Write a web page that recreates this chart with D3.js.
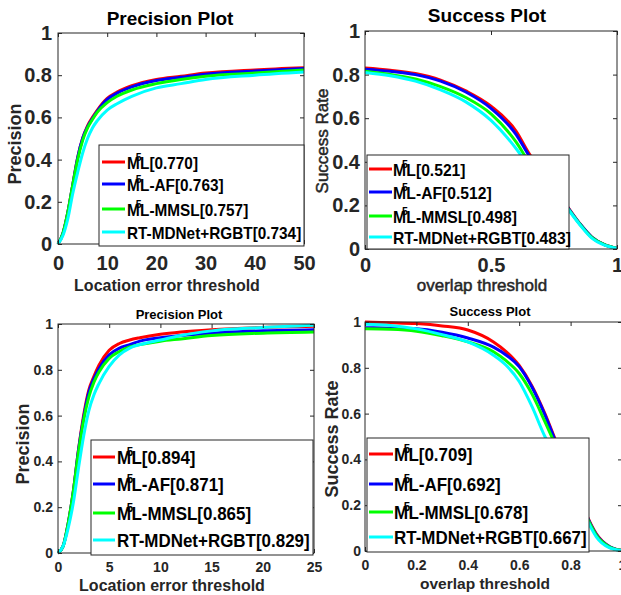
<!DOCTYPE html>
<html>
<head>
<meta charset="utf-8">
<script src="https://cdn.jsdelivr.net/npm/d3@7/dist/d3.min.js"></script>
<style>
body { margin: 0; background: #fff; }
text { font-family: "Liberation Sans", Arial, sans-serif; }
</style>
</head>
<body>
<div id="chart"></div>
<script>
// series names and colours (same order in all four plots)
const names = ["M5L", "M5L-AF", "M5L-MMSL", "RT-MDNet+RGBT"];
const colors = ["#ff0000", "#0000ff", "#00ff00", "#00ffff"];

// top left: precision, threshold 0..50
const precAX = [0, 1, 2, 3, 4, 5, 6, 7, 8, 10, 12, 15, 20, 25, 30, 40, 50];
const precARed   = [0, 0.05, 0.15, 0.28, 0.41, 0.50, 0.56, 0.60, 0.635, 0.69, 0.72, 0.75, 0.78, 0.795, 0.81, 0.825, 0.835];
const precABlue  = [0, 0.05, 0.15, 0.28, 0.41, 0.50, 0.555, 0.595, 0.63, 0.685, 0.715, 0.745, 0.775, 0.79, 0.805, 0.82, 0.832];
const precAGreen = [0, 0.05, 0.15, 0.28, 0.40, 0.49, 0.55, 0.59, 0.625, 0.67, 0.70, 0.73, 0.76, 0.78, 0.795, 0.81, 0.825];
const precACyan  = [0, 0.04, 0.12, 0.24, 0.34, 0.43, 0.50, 0.55, 0.585, 0.635, 0.665, 0.70, 0.74, 0.76, 0.78, 0.80, 0.815];
const precAScores = ["0.770", "0.763", "0.757", "0.734"];

// top right: success, overlap 0..1
const succAX = [0, 0.1, 0.2, 0.3, 0.4, 0.5, 0.6, 0.65, 0.7, 0.75, 0.8, 0.85, 0.9, 0.95, 1];
const succARed   = [0.83, 0.82, 0.805, 0.775, 0.725, 0.655, 0.54, 0.44, 0.36, 0.28, 0.20, 0.12, 0.055, 0.02, 0.003];
const succABlue  = [0.825, 0.815, 0.80, 0.77, 0.72, 0.645, 0.525, 0.43, 0.35, 0.275, 0.198, 0.12, 0.055, 0.02, 0.003];
const succAGreen = [0.815, 0.80, 0.78, 0.745, 0.695, 0.62, 0.49, 0.40, 0.33, 0.26, 0.193, 0.118, 0.053, 0.02, 0.003];
const succACyan  = [0.81, 0.795, 0.77, 0.73, 0.675, 0.59, 0.46, 0.38, 0.31, 0.25, 0.19, 0.115, 0.05, 0.018, 0.003];
const succAScores = ["0.521", "0.512", "0.498", "0.483"];

// bottom left: precision, threshold 0..25
const precBX = [0, 0.5, 1, 1.5, 2, 2.5, 3, 3.5, 4, 5, 6, 7, 8, 10, 12, 15, 20, 25];
const precBRed   = [0, 0.03, 0.13, 0.27, 0.45, 0.60, 0.71, 0.77, 0.82, 0.885, 0.915, 0.93, 0.94, 0.955, 0.965, 0.975, 0.985, 0.99];
const precBBlue  = [0, 0.03, 0.13, 0.27, 0.45, 0.59, 0.70, 0.76, 0.805, 0.865, 0.895, 0.91, 0.925, 0.94, 0.95, 0.96, 0.97, 0.975];
const precBGreen = [0, 0.03, 0.13, 0.27, 0.44, 0.58, 0.68, 0.745, 0.79, 0.85, 0.88, 0.90, 0.91, 0.925, 0.935, 0.95, 0.96, 0.965];
const precBCyan  = [0, 0.03, 0.11, 0.22, 0.37, 0.51, 0.62, 0.69, 0.74, 0.815, 0.865, 0.895, 0.91, 0.93, 0.95, 0.97, 0.985, 0.995];
const precBScores = ["0.894", "0.871", "0.865", "0.829"];

// bottom right: success, overlap 0..1
const succBX = [0, 0.1, 0.2, 0.3, 0.4, 0.5, 0.55, 0.6, 0.65, 0.7, 0.75, 0.8, 0.85, 0.88, 0.9, 0.95, 1];
const succBRed   = [1.0, 0.997, 0.993, 0.983, 0.965, 0.913, 0.87, 0.81, 0.72, 0.60, 0.46, 0.33, 0.19, 0.115, 0.075, 0.02, 0.002];
const succBBlue  = [0.975, 0.973, 0.97, 0.955, 0.93, 0.89, 0.855, 0.805, 0.715, 0.595, 0.455, 0.325, 0.188, 0.112, 0.072, 0.02, 0.002];
const succBGreen = [0.97, 0.968, 0.96, 0.94, 0.913, 0.87, 0.83, 0.775, 0.685, 0.565, 0.44, 0.315, 0.183, 0.108, 0.068, 0.018, 0.002];
const succBCyan  = [0.99, 0.985, 0.97, 0.945, 0.913, 0.855, 0.81, 0.74, 0.63, 0.50, 0.40, 0.295, 0.17, 0.10, 0.062, 0.015, 0.002];
const succBScores = ["0.709", "0.692", "0.678", "0.667"];

const width = 621, height = 595;
const axisColor = "#262626";

let svg = d3.select("#chart")
    .append("svg")
    .attr("width", width)
    .attr("height", height);

function legendLabel(t, name, score, fs) {
    if (name.startsWith("M5")) {
        t.append("tspan").text("M");
        t.append("tspan") // the raised 5 sits over the M/L join
            .attr("font-size", fs * 0.68)
            .attr("dx", -fs * 0.26)
            .attr("dy", -fs * 0.5)
            .text("5");
        t.append("tspan")
            .attr("dx", -fs * 0.1)
            .attr("dy", fs * 0.5)
            .text(name.slice(2) + "[" + score + "]");
    } else {
        t.text(name + "[" + score + "]");
    }
}

function drawPanel(p) {
    let x = d3.scaleLinear().domain(p.xDomain).range([p.left, p.right]);
    let y = d3.scaleLinear().domain([0, 1]).range([p.bottom, p.top]);
    let g = svg.append("g");

    // curves
    let line = d3.line()
        .x((d, i) => x(p.xs[i]))
        .y(d => y(d))
        .curve(d3.curveMonotoneX);
    p.series.forEach((s, k) => {
        g.append("path")
            .attr("d", line(s))
            .attr("fill", "none")
            .attr("stroke", colors[k])
            .attr("stroke-width", p.lw);
    });

    // box with inward ticks on every side
    const tk = 4;
    let styleAxis = a => {
        a.select(".domain").remove();
        a.selectAll(".tick line").attr("stroke", axisColor);
        a.selectAll("text")
            .attr("fill", axisColor)
            .attr("font-size", p.tickFs)
            .attr("font-weight", "bold")
            .attr("font-family", "Liberation Sans, Arial, sans-serif");
    };
    let fmt = d3.format("~g");
    let yt = [0, 0.2, 0.4, 0.6, 0.8, 1];
    g.append("g")
        .attr("transform", `translate(0,${p.bottom})`)
        .call(d3.axisBottom(x).tickValues(p.xTicks).tickFormat(fmt).tickSizeInner(-tk).tickSizeOuter(0).tickPadding(p.xPad))
        .call(styleAxis);
    g.append("g")
        .attr("transform", `translate(0,${p.top})`)
        .call(d3.axisTop(x).tickValues(p.xTicks).tickFormat("").tickSizeInner(-tk).tickSizeOuter(0))
        .call(styleAxis);
    g.append("g")
        .attr("transform", `translate(${p.left},0)`)
        .call(d3.axisLeft(y).tickValues(yt).tickFormat(fmt).tickSizeInner(-tk).tickSizeOuter(0).tickPadding(p.yPad))
        .call(styleAxis);
    g.append("g")
        .attr("transform", `translate(${p.right},0)`)
        .call(d3.axisRight(y).tickValues(yt).tickFormat("").tickSizeInner(-tk).tickSizeOuter(0))
        .call(styleAxis);
    g.append("rect")
        .attr("x", p.left).attr("y", p.top)
        .attr("width", p.right - p.left).attr("height", p.bottom - p.top)
        .attr("fill", "none").attr("stroke", axisColor).attr("stroke-width", 1);

    // titles
    g.append("text")
        .attr("x", p.title[1]).attr("y", p.title[2])
        .attr("text-anchor", "middle").attr("dominant-baseline", "central")
        .attr("font-size", p.title[3]).attr("font-weight", "bold")
        .attr("fill", "#000")
        .text(p.title[0]);
    let xl = g.append("text")
        .attr("x", p.xLabel[1]).attr("y", p.xLabel[2])
        .attr("text-anchor", "middle").attr("dominant-baseline", "central")
        .attr("font-size", p.xLabel[3]).attr("font-weight", p.xLabel[4])
        .attr("fill", axisColor)
        .text(p.xLabel[0]);
    let yl = g.append("text")
        .attr("transform", `translate(${p.yLabel[1]},${p.yLabel[2]}) rotate(-90)`)
        .attr("text-anchor", "middle").attr("dominant-baseline", "central")
        .attr("font-size", p.yLabel[3]).attr("font-weight", p.yLabel[4])
        .attr("fill", axisColor)
        .text(p.yLabel[0]);
    if (p.xLabel[4] == "normal") { // semi-bold look
        xl.attr("stroke", axisColor).attr("stroke-width", 0.5);
        yl.attr("stroke", axisColor).attr("stroke-width", 0.5);
    }

    // legend
    let L = p.legend;
    let lg = g.append("g");
    lg.append("rect")
        .attr("x", L.x0).attr("y", L.y0)
        .attr("width", L.x1 - L.x0).attr("height", L.y1 - L.y0)
        .attr("fill", "#fff").attr("stroke", axisColor).attr("stroke-width", 1);
    names.forEach((n, k) => {
        lg.append("line")
            .attr("x1", L.lx0).attr("x2", L.lx1)
            .attr("y1", L.rows[k]).attr("y2", L.rows[k])
            .attr("stroke", colors[k]).attr("stroke-width", p.lw);
        let t = lg.append("text")
            .attr("transform", `translate(${L.tx},${L.rows[k] + L.fs * 0.36 + 1}) scale(${L.sx},1)`)
            .attr("font-size", L.fs).attr("font-weight", "bold")
            .attr("fill", "#000");
        legendLabel(t, n, p.scores[k], L.fs);
    });
}

drawPanel({
    left: 58, right: 304, top: 33, bottom: 244,
    xDomain: [0, 50], xTicks: [0, 10, 20, 30, 40, 50], xs: precAX,
    series: [precARed, precABlue, precAGreen, precACyan], scores: precAScores,
    lw: 3, tickFs: 20, xPad: 12, yPad: 6,
    title: ["Precision Plot", 170, 18, 19],
    xLabel: ["Location error threshold", 167, 285, 16, "bold"],
    yLabel: ["Precision", 15, 144, 18, "bold"],
    legend: { x0: 99, y0: 145, x1: 304, y1: 246, rows: [162, 184, 209, 232], lx0: 102, lx1: 125, tx: 127, fs: 16.5, sx: 0.93 }
});

drawPanel({
    left: 365, right: 617, top: 31, bottom: 249,
    xDomain: [0, 1], xTicks: [0, 0.5, 1], xs: succAX,
    series: [succARed, succABlue, succAGreen, succACyan], scores: succAScores,
    lw: 3, tickFs: 20, xPad: 9, yPad: 5,
    title: ["Success Plot", 487, 15, 19],
    xLabel: ["overlap threshold", 482, 285, 17, "normal"],
    yLabel: ["Success Rate", 322, 141, 17, "normal"],
    legend: { x0: 367, y0: 155, x1: 569, y1: 249, rows: [169, 192, 216, 237], lx0: 369, lx1: 392, tx: 393, fs: 16.5, sx: 0.95 }
});

drawPanel({
    left: 58, right: 314, top: 324, bottom: 553,
    xDomain: [0, 25], xTicks: [0, 5, 10, 15, 20, 25], xs: precBX,
    series: [precBRed, precBBlue, precBGreen, precBCyan], scores: precBScores,
    lw: 3, tickFs: 14, xPad: 9, yPad: 5,
    title: ["Precision Plot", 179, 314, 13],
    xLabel: ["Location error threshold", 172, 585, 16, "bold"],
    yLabel: ["Precision", 23, 444, 18, "bold"],
    legend: { x0: 91, y0: 440, x1: 313, y1: 555, rows: [457, 484, 513, 540], lx0: 93, lx1: 115, tx: 117, fs: 17.5, sx: 0.97 }
});

drawPanel({
    left: 365, right: 622, top: 322, bottom: 551,
    xDomain: [0, 1], xTicks: [0, 0.2, 0.4, 0.6, 0.8, 1], xs: succBX,
    series: [succBRed, succBBlue, succBGreen, succBCyan], scores: succBScores,
    lw: 3, tickFs: 14, xPad: 9, yPad: 4,
    title: ["Success Plot", 490, 311, 13],
    xLabel: ["overlap threshold", 485, 583, 15.5, "bold"],
    yLabel: ["Success Rate", 332, 439, 18, "bold"],
    legend: { x0: 367, y0: 438, x1: 589, y1: 552, rows: [454, 484, 512, 537], lx0: 369, lx1: 393, tx: 394, fs: 17.5, sx: 0.97 }
});
</script>
</body>
</html>
